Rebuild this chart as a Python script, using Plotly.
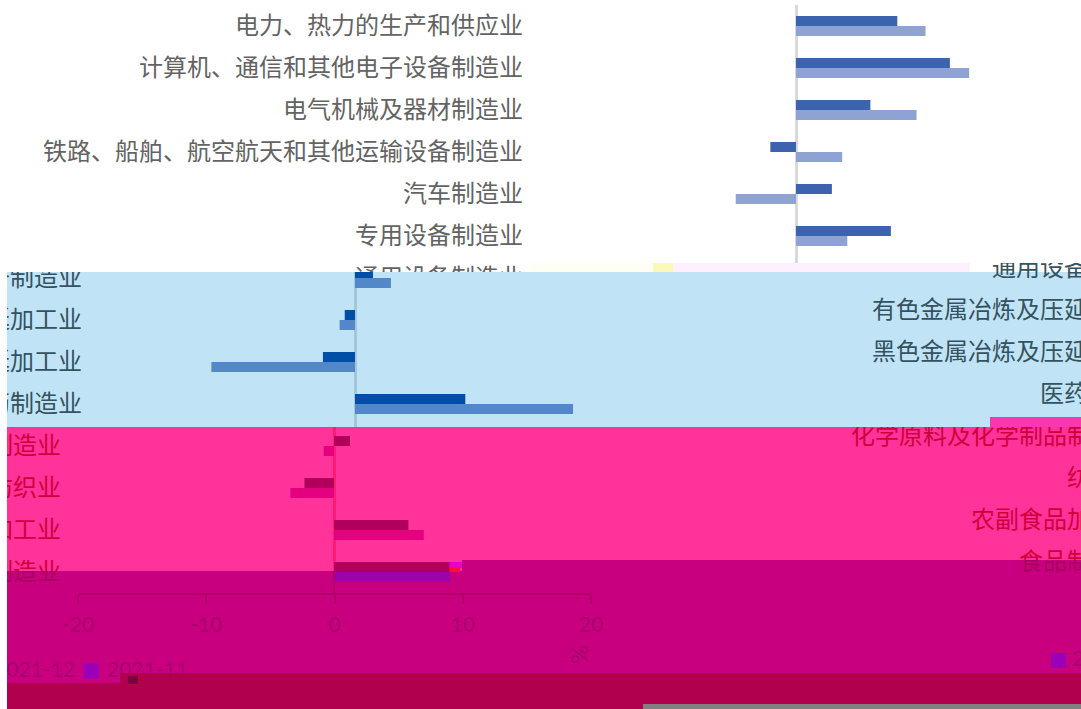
import plotly.graph_objects as go

CATEGORIES = ["电力、热力的生产和供应业", "计算机、通信和其他电子设备制造业", "电气机械及器材制造业",
              "铁路、船舶、航空航天和其他运输设备制造业", "汽车制造业", "专用设备制造业", "通用设备制造业",
              "有色金属冶炼及压延加工业", "黑色金属冶炼及压延加工业", "医药制造业",
              "化学原料及化学制品制造业", "纺织业", "农副食品加工业", "食品制造业"]
SERIES = ["2021-12", "2021-11"]
DEC = [7.9, 12.0, 5.8, -2.0, 2.8, 7.4, 1.4, -0.8, -2.5, 8.6, 1.25, -2.3, 5.8, 9.0]
NOV = [10.1, 13.5, 9.4, 3.6, -4.7, 4.0, 2.8, -1.2, -11.2, 17.0, -0.8, -3.4, 7.0, 9.05]
TICKS = [-20, -10, 0, 10, 20]

W, H = 1081, 709
SCALE = 12.825   # px per %
ROW0, ROWH = 26, 42
WRAP = 1078
LABEL_END = 523 - 796  # label right edge relative to the zero line, px
LATO = "Lato"
CJK = "Noto Sans CJK SC"
CHAR = 24

fig = go.Figure()
shapes, layout = [], {}
idx = list(range(len(CATEGORIES)))


def row(py):
    return (py - ROW0) / ROWH


def paper_y(py):
    return 1 - py / H


def rect(x0, x1, y0, y1, color):
    shapes.append(dict(type="rect", xref="paper", yref="paper", x0=x0 / W, x1=x1 / W,
                       y0=paper_y(y1), y1=paper_y(y0), fillcolor=color, line_width=0, layer="below"))


def axes_for(n, x0, x1, y0, y1, xr, yr, **xkw):
    s = "" if n == 1 else str(n)
    layout["xaxis" + s] = dict(domain=[x0 / W, x1 / W], range=xr, anchor="y" + s, showgrid=False, automargin=False,
                               showticklabels=False, ticks="", showline=False, **xkw)
    layout["yaxis" + s] = dict(domain=[paper_y(y1), paper_y(y0)], range=yr, anchor="x" + s, showgrid=False,
                               automargin=False, showticklabels=False, ticks="", showline=False, zeroline=False)
    return "x" + s, "y" + s


def panel(n, x0, x1, y0, y1, zero, bg, dark, light, text, zeroc=None, legend=None):
    xr = [(x0 - zero) / SCALE, (x1 - zero) / SCALE]
    kw = dict(zeroline=zeroc is not None)
    if zeroc:
        kw.update(zerolinecolor=zeroc, zerolinewidth=2.5)
    xa, ya = axes_for(n, x0, x1, y0, y1, xr, [row(y1), row(y0)], **kw)
    rect(x0, x1, y0, y1, bg)
    common = dict(xaxis=xa, yaxis=ya, showlegend=False, hoverinfo="skip")
    fig.add_trace(go.Bar(x=DEC, y=idx, orientation="h", marker=dict(color=dark, line_width=0), name=SERIES[0], **common))
    fig.add_trace(go.Bar(x=NOV, y=idx, orientation="h", marker=dict(color=light, line_width=0), name=SERIES[1], **common))
    font = dict(family=CJK, size=24, color=text)

    # a label is drawn only in the panels it really reaches: once in place, once wrapped round the right edge
    for shift_x, shift_y in ((0, 2), (WRAP, 2 - 10.5)):
        xs, ys, ts = [], [], []
        for i, name in zip(idx, CATEGORIES):
            end = zero + LABEL_END + shift_x
            cy = ROW0 + ROWH * i + shift_y
            if end > x0 and end - CHAR * len(name) < x1 and cy + 11 > y0 and cy - 10 < y1:
                xs.append((end - zero) / SCALE)
                ys.append(row(cy))
                ts.append(name)
        if ts:
            fig.add_trace(go.Scatter(x=xs, y=ys, mode="text", text=ts, textposition="middle left",
                                     textfont=font, **common))
    if legend:
        lf = dict(family=LATO, size=21, color=legend["text"])
        if x0 < 75:
            fig.add_trace(go.Scatter(x=[(75 - zero) / SCALE], y=[row(672)], mode="text", text=[SERIES[0]],
                                     textposition="middle left", textfont=lf, **common))
            fig.add_trace(go.Scatter(x=[(107 - zero) / SCALE], y=[row(672)], mode="text", text=[SERIES[1]],
                                     textposition="middle right", textfont=lf, **common))
            fig.add_trace(go.Scatter(x=[(91 - zero) / SCALE], y=[row(671)], mode="markers",
                                     marker=dict(symbol="square", size=15, color=legend["mark"], line_width=0), **common))
        if x1 > 1000:
            fig.add_trace(go.Scatter(x=[(75 + WRAP - zero) / SCALE], y=[row(661)], mode="text", text=[SERIES[0]],
                                     textposition="middle left", textfont=lf, **common))
            fig.add_trace(go.Scatter(x=[(1058.5 - zero) / SCALE], y=[row(660.5)], mode="markers",
                                     marker=dict(symbol="square", size=15, color=legend["mark"], line_width=0), **common))
    return xa


# background-only bands
rect(120, W, 673, H, "#B0004E")
rect(7, 120, 683, H, "#B0004E")
rect(643, W, 704, H, "#808080")
rect(673, 970, 263, 272, "#FFF0FF")
rect(530, 653, 263, 272, "#FFFEF4")
rect(653, 673, 263, 272, "#FBF8B8")

A = dict(bg="#FFFFFF", dark="#3C64AE", light="#8FA2D4", text="#636363")
B = dict(bg="#C0E4F6", dark="#004EA5", light="#5287C9", text="#34525F")
C = dict(bg="#FF3399", dark="#B0005C", light="#E4007F", text="#D0003C")
D = dict(bg="#C8007F", dark="#A00058", light="#A000A8", text="#A80060")
LEG = dict(text="#A8006C", mark="#9A00B8")

panel(1, 0, W, 5, 263, 796, **A, zeroc="#D9D9D9")
panel(2, 0, 530, 263, 272, 796, **A)
panel(3, 970, W, 263, 272, 355, "#FFFFFF", B["dark"], B["light"], B["text"])
panel(4, 7, W, 272, 427, 355, **B, zeroc="#A3C6DA")
panel(5, 7, W, 427, 560, 334, **C, zeroc="#FF1A75")
panel(6, 7, 462, 560, 571, 334, **C, zeroc="#FF1A75")
panel(7, 462, W, 560, 673, 334, **D, legend=LEG)
xa8 = panel(8, 7, 462, 571, 673, 334, **D, legend=LEG)
panel(9, 7, 120, 673, 683, 334, **D, legend=LEG)

# small glitch patches
rect(990, W, 417, 427, "#F838B0")
rect(448, 462, 562, 568, "#E800C8")
rect(448, 460, 568, 572, "#FF1030")
rect(128, 138, 676, 684, "#7A0040")

# vertical axis stub below the pink band
shapes.append(dict(type="line", xref=xa8, yref="paper", x0=0, x1=0, y0=paper_y(571), y1=paper_y(593),
                   line=dict(color="#B0006A", width=2)))

# the value axis, -20..20
AXC = "#B0006A"
layout["xaxis10"] = dict(domain=[78 / W, 591 / W], range=[TICKS[0], TICKS[-1]], anchor="y10", tickmode="array",
                         tickvals=TICKS, ticktext=[str(t) for t in TICKS], ticks="outside", ticklen=9, tickwidth=2,
                         tickcolor=AXC, showline=True, linecolor=AXC, linewidth=2, showgrid=False, zeroline=False,
                         automargin=False, tickfont=dict(family=LATO, size=21, color="#A8006C"), ticklabelstandoff=3)
layout["yaxis10"] = dict(domain=[paper_y(593), paper_y(583)], range=[0, 1], anchor="x10", visible=False, automargin=False)
fig.add_trace(go.Scatter(x=[TICKS[0]], y=[0], xaxis="x10", yaxis="y10", mode="markers", marker=dict(opacity=0),
                         showlegend=False, hoverinfo="skip"))

fig.update_layout(**layout)
fig.update_layout(template="none", width=W, height=H, margin=dict(l=0, r=0, t=0, b=0, pad=0), paper_bgcolor="#FFFFFF",
                  plot_bgcolor="rgba(0,0,0,0)", barmode="group", bargap=1 - 20 / ROWH, bargroupgap=0,
                  showlegend=False, shapes=shapes,
                  annotations=[dict(text="%", xref="paper", yref="paper", x=578 / W, y=paper_y(655), showarrow=False,
                                    xanchor="center", yanchor="middle", textangle=-90,
                                    font=dict(family=LATO, size=24, color="#A8006C"))])
fig.write_html("out.html", post_script="document.body.style.margin='0';document.documentElement.style.overflow='hidden';",
               config=dict(displayModeBar=False))
